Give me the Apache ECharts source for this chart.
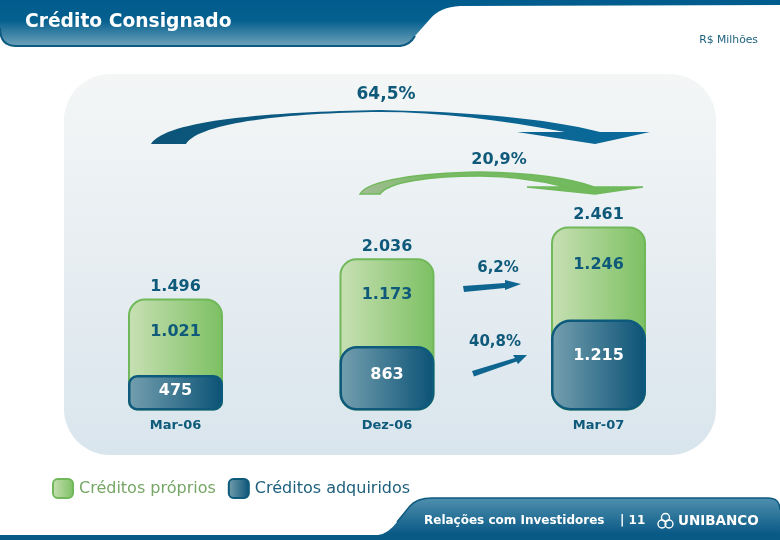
<!DOCTYPE html>
<html>
<head>
<meta charset="utf-8">
<title>Crédito Consignado</title>
<script src="https://cdn.jsdelivr.net/npm/echarts@6/dist/echarts.min.js"></script>
<style>
html,body{margin:0;padding:0;background:#fff}
#main{width:780px;height:540px}
</style>
</head>
<body>
<div id="main"></div>
<script>
var categories = ['Mar-06', 'Dez-06', 'Mar-07'];
var proprios = [1021, 1173, 1246];
var adquiridos = [475, 863, 1215];
var totais = [1496, 2036, 2461];
var totalLabels = ['1.496', '2.036', '2.461'];
var propriosLabels = ['1.021', '1.173', '1.246'];
var adquiridosLabels = ['475', '863', '1.215'];

// distancia do rotulo ao topo de cada barra
var propriosGap = [25, 29, 30];
var adquiridosGap = [8, 21, 28];
// raio dos cantos da barra azul
var adquiridosRaio = [8, 16, 18];

var font = '"DejaVu Sans", Verdana, sans-serif';
var azul = '#0f5a7a';

function grad(x2, y2, stops) {
  return {type: 'linear', x: 0, y: 0, x2: x2, y2: y2, colorStops: stops.map(function (c, i) {
    return {offset: c[1] !== undefined ? c[1] : i / (stops.length - 1), color: c[0]};
  })};
}
var verdeGrad = grad(1, 0, [['#c8e0b4'], ['#7cc062']]);
var azulGrad = grad(1, 0, [['#75a0af'], ['#0b5276']]);

function texto(x, y, str, size, color, weight, align) {
  return {type: 'text', x: x, y: y, z: 5, style: {
    text: str, fontFamily: font, fontSize: size, fontWeight: weight || 'bold',
    fill: color || azul, align: align || 'center', verticalAlign: 'middle'
  }};
}
// o componente graphic nao aceita pathData direto, entao registra cada forma
var nFormas = 0;
function forma(d, fill, stroke, lw) {
  var nome = 'forma' + (nFormas++);
  echarts.graphic.registerShape(nome, echarts.graphic.extendPath(d, {}));
  return {type: nome, z: 1, style: {fill: fill, stroke: stroke || null, lineWidth: stroke ? (lw || 1.5) : 0}};
}
function anel(cx, cy) {
  return {type: 'circle', z: 5, shape: {cx: cx, cy: cy, r: 4}, style: {fill: null, stroke: '#fff', lineWidth: 1.4}};
}

var enfeites = [
  // fundo
  {type: 'rect', z: -5, shape: {x: 64, y: 74, width: 652, height: 381, r: 46},
    style: {fill: grad(0, 1, [['#f4f6f6'], ['#d9e5ed']])}},
  // faixa do topo
  forma('M0 0 L780 0 L780 5 L460 6 Q440 7 430 19 L415 36 Q410 45 400 46 L16 46 Q0 46 0 28 Z',
    grad(0, 1, [['#015c8e', 0], ['#05608f', 0.45], ['#6ea2ba', 1]])),
  forma('M0 28 Q0 46 16 46 L400 46 Q410 45 415 36', null, '#0d5a80', 2),
  // rodape
  forma('M0 535 L378 535 Q388 534 397 522 L410 506 Q417 498 432 498 L768 498 Q780 498 780 510 L780 540 L0 540 Z',
    grad(0, 1, [['#4f8fae', 0], ['#0a5a86', 0.85], ['#0a5a86', 1]])),
  forma('M397 522 L410 506 Q417 498 432 498 L768 498 Q780 498 780 510', null, '#0d5a80', 1.5),
  // setas grandes
  forma('M151 144 C166 120 270 112 380 110 C470 112 545 118 600 132 L650 132 L595 144 L517 132 L565 132 C500 120 440 112 380 112 C290 113 200 122 186 144 Z',
    grad(1, 0, [['#0c5478'], ['#0a6b9c']])),
  forma('M360 194 C368 180 420 173 480 172 C530 173 570 178 594 187 L643 187 L595 194 L527 187 L566 187 C535 179 510 176 480 176 C430 176 388 182 380 194 Z',
    grad(1, 0, [['#a3bd96', 0], ['#7bba66', 0.25], ['#6fb95b', 1]]), '#6fb95b', 1.5),
  // setas pequenas
  forma('M463 286 L505 283 L505 280 L521 284 L505 290 L505 288 L464 292 Z', '#0d6590'),
  forma('M472 371 L515 358 L513 355 L527 355 L518 364 L516.5 361.5 L474 376.5 Z', '#0d6590'),
  // logo
  anel(662, 524), anel(669, 524), anel(665.5, 517.5),
  // textos
  texto(25, 22, 'Crédito Consignado', 18.7, '#fff', 'bold', 'left'),
  texto(758, 40, 'R$ Milhões', 10.8, '#1d5f7c', 'normal', 'right'),
  texto(386, 95, '64,5%', 17),
  texto(499, 160, '20,9%', 16),
  texto(498, 268, '6,2%', 15),
  texto(495, 342, '40,8%', 15),
  texto(424, 521, 'Relações com Investidores', 12, '#fff', 'bold', 'left'),
  texto(620, 521, '| 11', 12, '#fff', 'bold', 'left'),
  texto(678, 521, 'UNIBANCO', 13.5, '#fff', 'bold', 'left')
];

var chart = echarts.init(document.getElementById('main'));
chart.setOption({
  animation: false,
  backgroundColor: '#fff',
  textStyle: {fontFamily: font},
  grid: {left: 69.75, width: 634.5, top: 210, height: 200.5},
  legend: {
    left: 52, top: 478, padding: 0, itemWidth: 20, itemHeight: 19, itemGap: 12,
    data: [
      {name: 'Créditos próprios', textStyle: {color: '#77a666'}},
      {name: 'Créditos adquiridos', textStyle: {color: '#1d5f7c'}}
    ],
    textStyle: {fontFamily: font, fontSize: 16, padding: [0, 0, 0, 1]}
  },
  xAxis: {
    type: 'category', data: categories,
    axisLine: {show: false}, axisTick: {show: false},
    axisLabel: {color: azul, fontWeight: 'bold', fontSize: 13, margin: 9, fontFamily: font}
  },
  yAxis: {type: 'value', min: 0, max: 2680, show: false},
  graphic: {elements: enfeites},
  series: [
    {
      // verde vai ate o total, a barra azul fica por cima e esconde os cantos de baixo
      name: 'Créditos próprios', type: 'bar', barWidth: 95, barGap: '-100%', z: 2,
      itemStyle: {color: verdeGrad, borderColor: '#70b85a', borderWidth: 2},
      data: proprios.map(function (v, i) {
        var r = adquiridosRaio[i];
        return {value: v + adquiridos[i], label: {distance: propriosGap[i]}, itemStyle: {borderRadius: [16, 16, r, r]}};
      }),
      label: {
        show: true, position: 'insideTop', color: azul, fontWeight: 'bold', fontSize: 16, fontFamily: font,
        formatter: function (p) { return propriosLabels[p.dataIndex]; }
      }
    },
    {
      name: 'Créditos adquiridos', type: 'bar', barWidth: 95, barGap: '-100%', z: 3,
      itemStyle: {color: azulGrad, borderColor: '#0d5a7c', borderWidth: 2.5},
      data: adquiridos.map(function (v, i) {
        return {value: v, label: {distance: adquiridosGap[i]}, itemStyle: {borderRadius: adquiridosRaio[i]}};
      }),
      label: {
        show: true, position: 'insideTop', color: '#fff', fontWeight: 'bold', fontSize: 16, fontFamily: font,
        formatter: function (p) { return adquiridosLabels[p.dataIndex]; }
      }
    },
    {
      name: 'Total', type: 'scatter', symbolSize: 1, z: 4,
      itemStyle: {color: 'transparent', opacity: 1},
      data: totais,
      label: {
        show: true, position: 'top', distance: 3, color: azul, fontWeight: 'bold', fontSize: 16, fontFamily: font,
        formatter: function (p) { return totalLabels[p.dataIndex]; }
      }
    }
  ]
});
</script>
</body>
</html>
